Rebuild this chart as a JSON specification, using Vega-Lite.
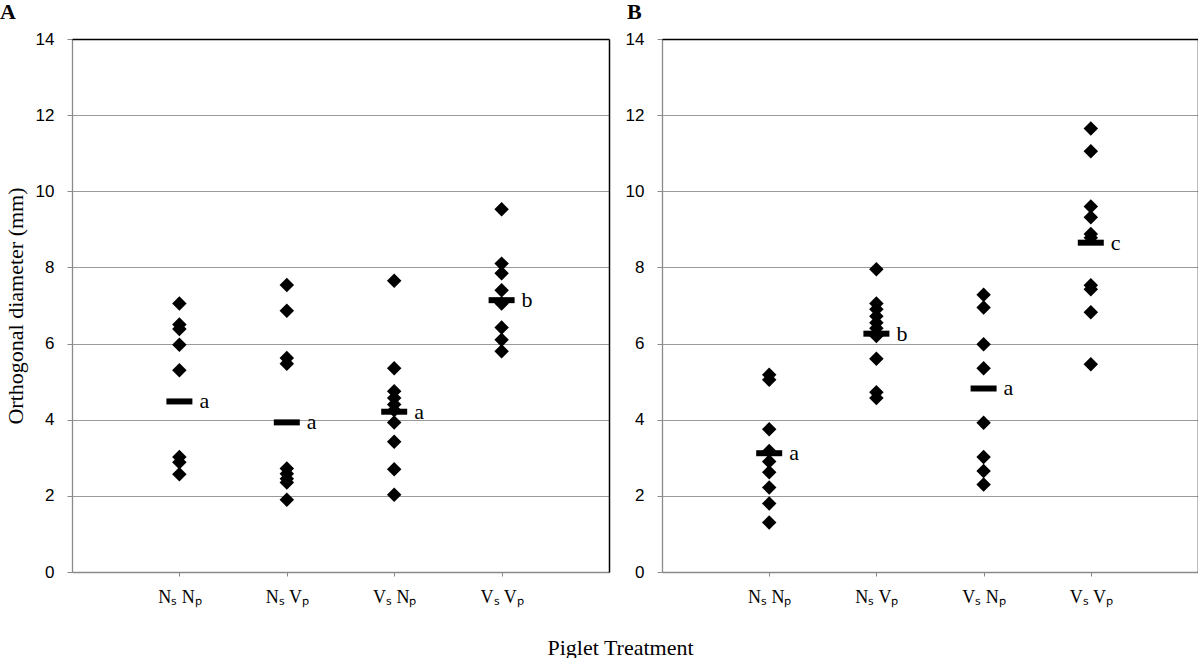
{
  "$schema": "https://vega.github.io/schema/vega-lite/v6.json",
  "background": "white",
  "padding": {"left": 0, "top": 1, "right": 0, "bottom": 0},
  "bounds": "flush",
  "spacing": 53,
  "config": {
    "view": {"stroke": null},
    "axis": {
      "domainColor": "#8a8a8a",
      "tickColor": "#8a8a8a",
      "gridColor": "#9a9a9a",
      "labelColor": "black",
      "titleColor": "black",
      "titleFontWeight": "normal",
      "domainWidth": 1.3
    }
  },
  "datasets": {
    "points": [
      {"panel": "A", "group": 1, "value": 7.05}, {"panel": "A", "group": 1, "value": 6.5}, {"panel": "A", "group": 1, "value": 6.38}, {"panel": "A", "group": 1, "value": 5.97}, {"panel": "A", "group": 1, "value": 5.3}, {"panel": "A", "group": 1, "value": 3.02}, {"panel": "A", "group": 1, "value": 2.88}, {"panel": "A", "group": 1, "value": 2.57},
      {"panel": "A", "group": 2, "value": 7.54}, {"panel": "A", "group": 2, "value": 6.86}, {"panel": "A", "group": 2, "value": 5.62}, {"panel": "A", "group": 2, "value": 5.47}, {"panel": "A", "group": 2, "value": 2.72}, {"panel": "A", "group": 2, "value": 2.58}, {"panel": "A", "group": 2, "value": 2.45}, {"panel": "A", "group": 2, "value": 2.35}, {"panel": "A", "group": 2, "value": 1.9},
      {"panel": "A", "group": 3, "value": 7.65}, {"panel": "A", "group": 3, "value": 5.35}, {"panel": "A", "group": 3, "value": 4.75}, {"panel": "A", "group": 3, "value": 4.57}, {"panel": "A", "group": 3, "value": 4.4}, {"panel": "A", "group": 3, "value": 4.25}, {"panel": "A", "group": 3, "value": 3.93}, {"panel": "A", "group": 3, "value": 3.42}, {"panel": "A", "group": 3, "value": 2.7}, {"panel": "A", "group": 3, "value": 2.03},
      {"panel": "A", "group": 4, "value": 9.53}, {"panel": "A", "group": 4, "value": 8.1}, {"panel": "A", "group": 4, "value": 7.85}, {"panel": "A", "group": 4, "value": 7.4}, {"panel": "A", "group": 4, "value": 7.05}, {"panel": "A", "group": 4, "value": 6.42}, {"panel": "A", "group": 4, "value": 6.1}, {"panel": "A", "group": 4, "value": 5.8},
      {"panel": "B", "group": 1, "value": 5.18}, {"panel": "B", "group": 1, "value": 5.05}, {"panel": "B", "group": 1, "value": 3.75}, {"panel": "B", "group": 1, "value": 3.18}, {"panel": "B", "group": 1, "value": 2.9}, {"panel": "B", "group": 1, "value": 2.62}, {"panel": "B", "group": 1, "value": 2.22}, {"panel": "B", "group": 1, "value": 1.8}, {"panel": "B", "group": 1, "value": 1.3},
      {"panel": "B", "group": 2, "value": 7.95}, {"panel": "B", "group": 2, "value": 7.05}, {"panel": "B", "group": 2, "value": 6.9}, {"panel": "B", "group": 2, "value": 6.72}, {"panel": "B", "group": 2, "value": 6.55}, {"panel": "B", "group": 2, "value": 6.4}, {"panel": "B", "group": 2, "value": 6.2}, {"panel": "B", "group": 2, "value": 5.6}, {"panel": "B", "group": 2, "value": 4.72}, {"panel": "B", "group": 2, "value": 4.57},
      {"panel": "B", "group": 3, "value": 7.28}, {"panel": "B", "group": 3, "value": 6.95}, {"panel": "B", "group": 3, "value": 5.98}, {"panel": "B", "group": 3, "value": 5.35}, {"panel": "B", "group": 3, "value": 3.92}, {"panel": "B", "group": 3, "value": 3.02}, {"panel": "B", "group": 3, "value": 2.65}, {"panel": "B", "group": 3, "value": 2.3},
      {"panel": "B", "group": 4, "value": 11.65}, {"panel": "B", "group": 4, "value": 11.05}, {"panel": "B", "group": 4, "value": 9.6}, {"panel": "B", "group": 4, "value": 9.32}, {"panel": "B", "group": 4, "value": 8.88}, {"panel": "B", "group": 4, "value": 8.78}, {"panel": "B", "group": 4, "value": 7.53}, {"panel": "B", "group": 4, "value": 7.43}, {"panel": "B", "group": 4, "value": 6.82}, {"panel": "B", "group": 4, "value": 5.46}
    ],
    "means": [
      {"panel": "A", "group": 1, "value": 4.48, "letter": "a"},
      {"panel": "A", "group": 2, "value": 3.93, "letter": "a"},
      {"panel": "A", "group": 3, "value": 4.21, "letter": "a"},
      {"panel": "A", "group": 4, "value": 7.14, "letter": "b"},
      {"panel": "B", "group": 1, "value": 3.12, "letter": "a"},
      {"panel": "B", "group": 2, "value": 6.26, "letter": "b"},
      {"panel": "B", "group": 3, "value": 4.82, "letter": "a"},
      {"panel": "B", "group": 4, "value": 8.65, "letter": "c"}
    ]
  },
  "hconcat": [
    {
      "width": 537,
      "height": 533,
      "title": {"text": "A", "anchor": "start", "frame": "group", "dx": -72, "offset": -11, "baseline": "alphabetic", "font": "Liberation Serif", "fontSize": 22, "fontWeight": "bold", "color": "black"},
      "resolve": {"axis": {"x": "independent", "y": "independent"}},
      "layer": [
        {
          "data": {"name": "points"},
          "transform": [{"filter": "datum.panel == 'A'"}],
          "mark": {"type": "point", "shape": "diamond", "filled": true, "size": 210, "color": "black", "opacity": 1},
          "encoding": {
            "x": {"field": "group", "type": "quantitative", "scale": {"domain": [0, 5], "nice": false},
              "axis": {"values": [1, 2, 3, 4], "grid": false, "tickSize": 4, "labelPadding": 12, "labelFont": "Liberation Serif", "labelFontSize": 18,
                "labelExpr": "datum.value == 1 ? 'Nₛ Nₚ' : datum.value == 2 ? 'Nₛ Vₚ' : datum.value == 3 ? 'Vₛ Nₚ' : 'Vₛ Vₚ'",
                "title": "Piglet Treatment", "titleFont": "Liberation Serif", "titleFontSize": 22, "titleX": 548, "titleY": 82, "titleBaseline": "alphabetic", "titleAlign": "center"}},
            "y": {"field": "value", "type": "quantitative", "scale": {"domain": [0, 14], "nice": false},
              "axis": {"values": [0, 2, 4, 6, 8, 10, 12, 14], "grid": true, "gridWidth": 1.2, "tickSize": 5, "labelPadding": 13, "labelFont": "Liberation Sans", "labelFontSize": 17,
                "title": "Orthogonal diameter (mm)", "titleFont": "Liberation Serif", "titleFontSize": 22, "titleAngle": 270, "titleX": -50, "titleY": 266.5, "titleBaseline": "alphabetic", "titleAlign": "center"}}
          }
        },
        {
          "data": {"name": "means"},
          "transform": [{"filter": "datum.panel == 'A'"}],
          "mark": {"type": "tick", "orient": "horizontal", "size": 26, "thickness": 6, "color": "black", "opacity": 1},
          "encoding": {
            "x": {"field": "group", "type": "quantitative", "axis": {"orient": "top", "labels": false, "ticks": false, "grid": false, "title": null, "domainColor": "black", "domainWidth": 1.5, "zindex": 1}},
            "y": {"field": "value", "type": "quantitative", "axis": {"orient": "right", "labels": false, "ticks": false, "grid": false, "title": null, "domainColor": "black", "domainWidth": 1.5, "zindex": 1}}
          }
        },
        {
          "data": {"name": "means"},
          "transform": [{"filter": "datum.panel == 'A'"}],
          "mark": {"type": "text", "align": "left", "baseline": "alphabetic", "dx": 20, "dy": 7, "font": "Liberation Serif", "fontSize": 22, "color": "black"},
          "encoding": {
            "x": {"field": "group", "type": "quantitative", "axis": null},
            "y": {"field": "value", "type": "quantitative", "axis": null},
            "text": {"field": "letter"}
          }
        }
      ]
    },
    {
      "width": 536,
      "height": 533,
      "title": {"text": "B", "anchor": "start", "frame": "group", "dx": -35, "offset": -11, "baseline": "alphabetic", "font": "Liberation Serif", "fontSize": 22, "fontWeight": "bold", "color": "black"},
      "resolve": {"axis": {"x": "independent", "y": "independent"}},
      "layer": [
        {
          "data": {"name": "points"},
          "transform": [{"filter": "datum.panel == 'B'"}],
          "mark": {"type": "point", "shape": "diamond", "filled": true, "size": 210, "color": "black", "opacity": 1},
          "encoding": {
            "x": {"field": "group", "type": "quantitative", "scale": {"domain": [0, 5], "nice": false},
              "axis": {"values": [1, 2, 3, 4], "grid": false, "tickSize": 4, "labelPadding": 12, "labelFont": "Liberation Serif", "labelFontSize": 18,
                "labelExpr": "datum.value == 1 ? 'Nₛ Nₚ' : datum.value == 2 ? 'Nₛ Vₚ' : datum.value == 3 ? 'Vₛ Nₚ' : 'Vₛ Vₚ'",
                "title": null}},
            "y": {"field": "value", "type": "quantitative", "scale": {"domain": [0, 14], "nice": false},
              "axis": {"values": [0, 2, 4, 6, 8, 10, 12, 14], "grid": true, "gridWidth": 1.2, "tickSize": 5, "labelPadding": 13, "labelFont": "Liberation Sans", "labelFontSize": 17, "title": null}}
          }
        },
        {
          "data": {"name": "means"},
          "transform": [{"filter": "datum.panel == 'B'"}],
          "mark": {"type": "tick", "orient": "horizontal", "size": 26, "thickness": 6, "color": "black", "opacity": 1},
          "encoding": {
            "x": {"field": "group", "type": "quantitative", "axis": {"orient": "top", "labels": false, "ticks": false, "grid": false, "title": null, "domainColor": "black", "domainWidth": 1.5, "zindex": 1}},
            "y": {"field": "value", "type": "quantitative", "axis": {"orient": "right", "labels": false, "ticks": false, "grid": false, "title": null, "domainColor": "black", "domainWidth": 1.5, "zindex": 1}}
          }
        },
        {
          "data": {"name": "means"},
          "transform": [{"filter": "datum.panel == 'B'"}],
          "mark": {"type": "text", "align": "left", "baseline": "alphabetic", "dx": 20, "dy": 7, "font": "Liberation Serif", "fontSize": 22, "color": "black"},
          "encoding": {
            "x": {"field": "group", "type": "quantitative", "axis": null},
            "y": {"field": "value", "type": "quantitative", "axis": null},
            "text": {"field": "letter"}
          }
        }
      ]
    }
  ]
}
